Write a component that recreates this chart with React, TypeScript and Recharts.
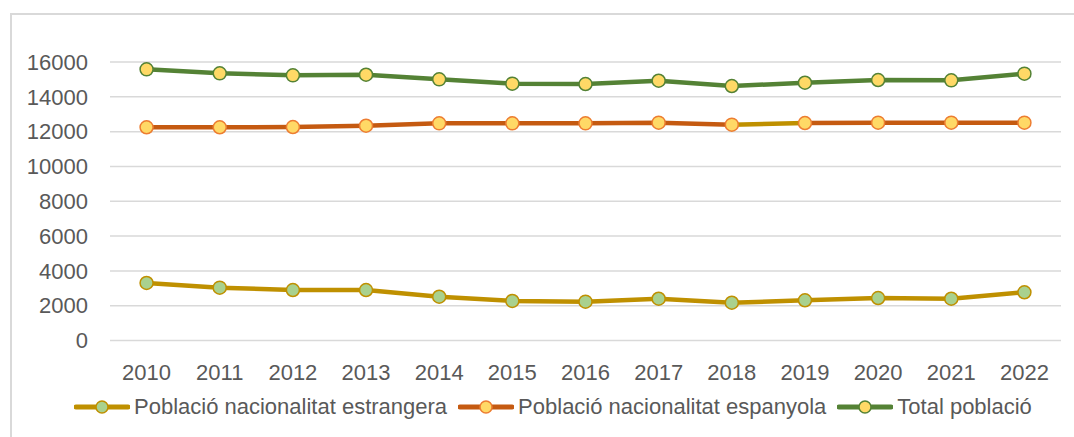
import React from 'react';
import { LineChart, Line, XAxis, YAxis, CartesianGrid } from 'recharts';

const years = ['2010', '2011', '2012', '2013', '2014', '2015', '2016', '2017', '2018', '2019', '2020', '2021', '2022'];
const foreignPop = [3305, 3035, 2900, 2900, 2515, 2270, 2230, 2400, 2170, 2310, 2440, 2400, 2770];
const spanishPop = [12250, 12250, 12265, 12340, 12475, 12475, 12475, 12515, 12400, 12495, 12515, 12515, 12515];
const totalPop = [15580, 15350, 15235, 15270, 15005, 14755, 14735, 14925, 14620, 14810, 14965, 14945, 15330];
const yTicks = [0, 2000, 4000, 6000, 8000, 10000, 12000, 14000, 16000];

const seriesNames = ['Població nacionalitat estrangera', 'Població nacionalitat espanyola', 'Total població'];

const data = years.map((y, i) => ({
  year: y,
  foreign: foreignPop[i],
  spanish: spanishPop[i],
  total: totalPop[i],
}));

const FONT = '"Liberation Sans", Arial, sans-serif';
const TEXT = '#595959';
const GRID = '#D9D9D9';

const series = [
  { key: 'foreign', name: seriesNames[0], line: '#BF9000', fill: '#A9D18E', mstroke: '#BF9000' },
  { key: 'spanish', name: seriesNames[1], line: '#C55A11', fill: '#FFD966', mstroke: '#ED7D31' },
  { key: 'total', name: seriesNames[2], line: '#548235', fill: '#FFD966', mstroke: '#548235' },
];

// segment 2018 -> 2019 of the Spanish series is drawn in the gold colour in the reference
const segStart = years.indexOf('2018') / (years.length - 1);
const segEnd = years.indexOf('2019') / (years.length - 1);

const LegendIcon = ({ line, fill, stroke }: { line: string; fill: string; stroke: string }) => (
  <svg width={56} height={16} style={{ display: 'block' }}>
    <line x1={2} y1={8} x2={54} y2={8} stroke={line} strokeWidth={5} strokeLinecap="round" />
    <circle cx={28} cy={8} r={6} fill={fill} stroke={stroke} strokeWidth={1.5} />
  </svg>
);

export default function App() {
  return (
    <div style={{ position: 'absolute', left: 0, top: 0, width: 1074, height: 437, overflow: 'hidden', background: '#fff', fontFamily: FONT }}>
      <div style={{ position: 'absolute', left: 10, top: 13, width: 1200, height: 600, borderLeft: `2px solid ${GRID}`, borderTop: `2px solid ${GRID}` }} />
      <svg width={0} height={0} style={{ position: 'absolute' }}>
        <defs>
          <linearGradient id="spanishGrad" x1="0" y1="0" x2="1" y2="0">
            <stop offset={0} stopColor="#C55A11" />
            <stop offset={segStart} stopColor="#C55A11" />
            <stop offset={segStart} stopColor="#BF9000" />
            <stop offset={segEnd} stopColor="#BF9000" />
            <stop offset={segEnd} stopColor="#C55A11" />
            <stop offset={1} stopColor="#C55A11" />
          </linearGradient>
        </defs>
      </svg>
      <div style={{ position: 'absolute', left: 0, top: 0 }}>
        <LineChart width={1074} height={437} data={data} margin={{ top: 62, right: 13, bottom: 56.5, left: 0 }}>
          <CartesianGrid vertical={false} stroke={GRID} strokeWidth={1.5} />
          <XAxis
            dataKey="year"
            scale="band"
            axisLine={false}
            tickLine={false}
            tickSize={0}
            tickMargin={24}
            height={40}
            interval={0}
            tick={{ fill: TEXT, fontSize: 22, fontFamily: FONT }}
          />
          <YAxis
            domain={[0, 16000]}
            ticks={yTicks}
            width={110}
            axisLine={false}
            tickLine={false}
            tickSize={0}
            tickMargin={22}
            interval={0}
            tick={{ fill: TEXT, fontSize: 22, fontFamily: FONT }}
          />
          {series.map((s) => (
            <Line
              key={s.key}
              dataKey={s.key}
              name={s.name}
              type="linear"
              stroke={s.key === 'spanish' ? 'url(#spanishGrad)' : s.line}
              strokeWidth={4.5}
              strokeLinejoin="round"
              dot={{ r: 6.5, fill: s.fill, stroke: s.mstroke, strokeWidth: 1.5 }}
              activeDot={false}
              isAnimationActive={false}
            />
          ))}
        </LineChart>
      </div>
      <div style={{ position: 'absolute', left: 74, top: 394, display: 'flex', alignItems: 'center', color: TEXT, fontSize: 22, lineHeight: '26px', whiteSpace: 'nowrap' }}>
        {series.map((s, i) => (
          <div key={s.key} style={{ display: 'flex', alignItems: 'center', marginRight: i < series.length - 1 ? 11 : 0 }}>
            <LegendIcon line={s.line} fill={s.fill} stroke={s.mstroke} />
            <span style={{ marginLeft: 4 }}>{s.name}</span>
          </div>
        ))}
      </div>
    </div>
  );
}
